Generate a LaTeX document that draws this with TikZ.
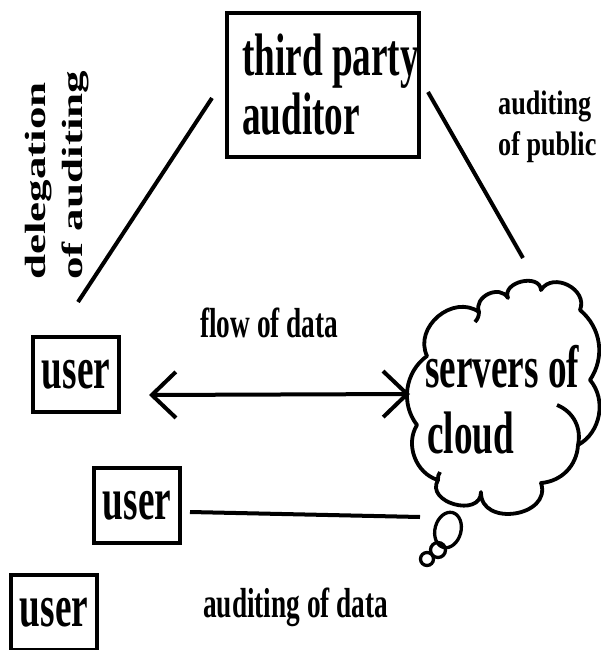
\documentclass[tikz,border=0pt]{standalone}
\usepackage{fontspec}
\usetikzlibrary{arrows.meta}
% Bold serif faces, condensed or widened as each label needs
\newfontfamily\fmain{Liberation Serif}[FakeStretch=0.62]
\newfontfamily\flab{Liberation Serif}[FakeStretch=0.65]
\newfontfamily\fpub{Liberation Serif}[FakeStretch=0.77]
\newfontfamily\frot{Liberation Serif}[FakeStretch=1.54]
\tikzset{
  bigtext/.style={font=\fmain\bfseries\fontsize{60}{59}\selectfont, inner sep=0pt},
  labtext/.style={font=\flab\bfseries\fontsize{42}{48}\selectfont, inner sep=0pt, anchor=base west},
  pubtext/.style={font=\fpub\bfseries\fontsize{34}{40}\selectfont, inner sep=0pt, anchor=base west},
  rottext/.style={font=\frot\bfseries\fontsize{29.25}{34}\selectfont, inner sep=0pt, anchor=base west, rotate=90},
  userbox/.style={bigtext, draw, line width=3.8pt, minimum width=86pt, minimum height=75pt},
  tpabox/.style={draw, line width=4.5pt, minimum width=192pt, minimum height=144pt, inner sep=0pt},
  link/.style={line width=4pt},
  cloudline/.style={line width=3.8pt, line join=round},
  bubble/.style={line width=3.3pt},
}
\begin{document}
\begin{tikzpicture}[x=1pt, y=-1pt]
\useasboundingbox (0,0) rectangle (600,650);

% third party auditor
\node[tpabox] (tpa) at (323,85) {};
\node[bigtext, anchor=base west] (tpa1) at (242,76) {third party};
\node[bigtext, anchor=base west] (tpa2) at (242,135) {auditor};

% users
\node[userbox] (u1) at (76,374.5) {user};
\node[userbox] (u2) at (137,505.5) {user};
\node[userbox] (u3) at (54,612.5) {user};

% cloud of servers
\draw[cloudline] (427,356) to[bend left=75, looseness=1.2] (479,312)
  to[bend left=85, looseness=1.3] (508,298)
  to[bend left=99, looseness=1.3] (541,290) to[bend left=85, looseness=1.3] (580,310)
  to[bend left=42] (590,380)
  to[bend left=51] (578,445) to[bend left=41] (541,483)
  to[bend left=100, looseness=1.5] (481,492) to[bend left=105, looseness=1.5] (438,480)
  to[bend left=53] (417,425) to[bend left=46] cycle;
\draw[cloudline] (557,405) to[bend left=40] (578,445);
\draw[cloudline] (479,312) to[bend left=20] (475,322);
\draw[cloudline] (438,480) to[bend left=20] (440,472);
\draw[bubble, rotate around={-15:(448,530)}] (448,530) ellipse [x radius=13, y radius=18];
\draw[bubble] (438,550) circle [radius=7.5];
\draw[bubble] (427,559) circle [radius=6.5];
\node[bigtext, anchor=base west] (srv1) at (425,387) {servers of};
\node[bigtext, anchor=base west] (srv2) at (427,453) {cloud};

% connector end points
\coordinate (tpaL) at (212,98);
\coordinate (delg) at (78,302);
\coordinate (tpaR) at (428,92);
\coordinate (cloudTop) at (523,258);
\coordinate (arrL) at (149,395);
\coordinate (arrR) at (410,394);
\coordinate (u2R) at (190,512);
\coordinate (cloudL) at (420,517);

\draw[link] (delg) -- (tpaL);
\draw[link] (tpaR) -- (cloudTop);
\draw[link, {Straight Barb[length=24pt, width=46pt]}-{Straight Barb[length=24pt, width=46pt]}] (arrL) -- (arrR);
\draw[link] (u2R) -- (cloudL);

% labels
\node[rottext] (dl1) at (45,280) {delegation};
\node[rottext] (dl2) at (82,280) {of auditing};
\node[pubtext] (pub1) at (498,115) {auditing};
\node[pubtext] (pub2) at (498,155) {of public};
\node[labtext] (flow) at (200,337) {flow of data};
\node[labtext] (audd) at (203,617) {auditing of data};
\end{tikzpicture}
\end{document}
